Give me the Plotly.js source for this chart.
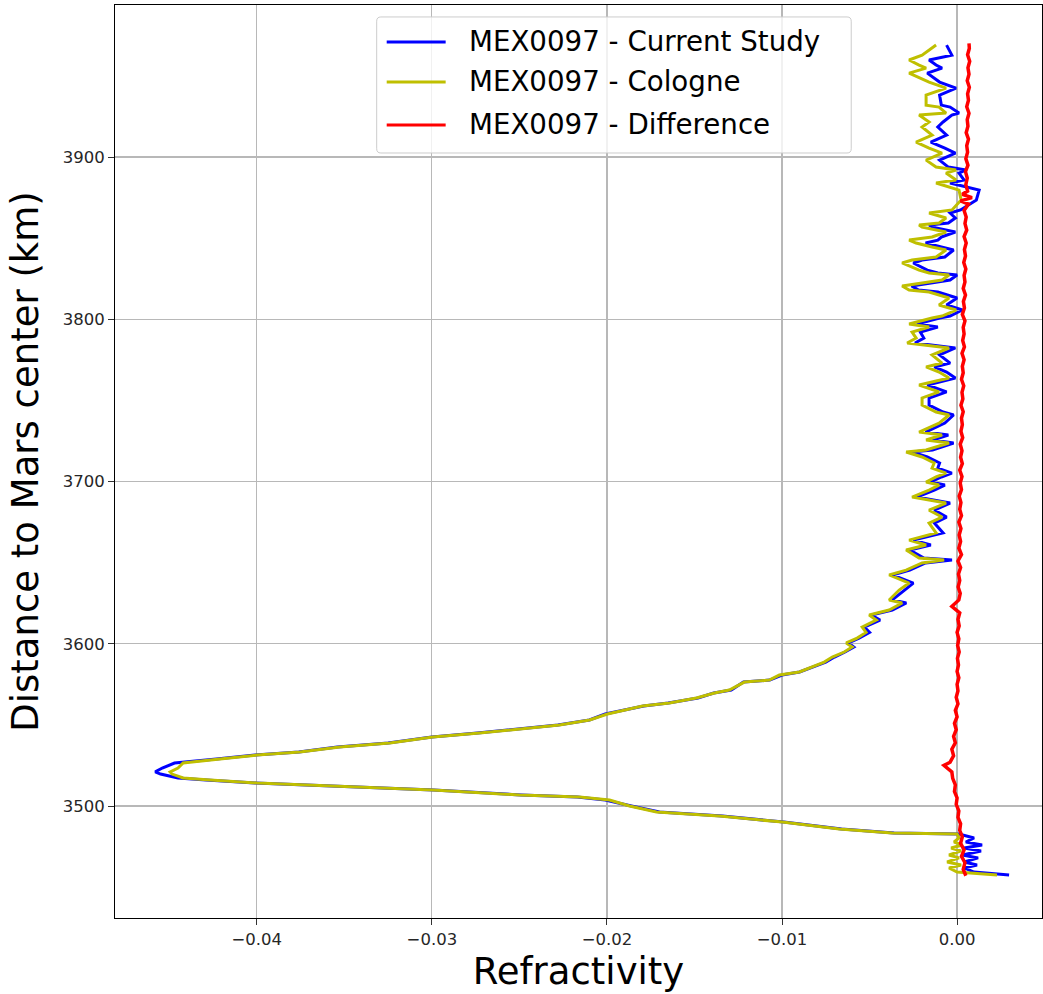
<!DOCTYPE html>
<html>
<head>
<meta charset="utf-8">
<script src="https://cdn.plot.ly/plotly-3.0.1.min.js"></script>
<style>
  html, body { margin: 0; padding: 0; background: #ffffff; }
  #chart { width: 1043px; height: 994px; }
</style>
</head>
<body>
<div id="chart"></div>
<script>
// Radio-occultation refractivity profile MEX0097 (km from Mars centre)
const heights = [
  3457.5, 3459.3, 3461.8, 3463.6, 3465.5, 3468.0, 3469.8, 3472.3, 3474.1, 3476.0,
  3477.8, 3480.3, 3482.7, 3483.4, 3485.8, 3490.1, 3493.8, 3496.3, 3500.0, 3503.7,
  3505.5, 3506.8, 3509.9, 3512.3, 3514.2, 3516.0, 3517.3, 3519.7, 3521.0, 3523.4,
  3526.5, 3529.0, 3531.4, 3533.3, 3536.4, 3538.8, 3542.5, 3545.0, 3547.5, 3549.9,
  3553.0, 3556.7, 3561.6, 3563.5, 3566.6, 3569.6, 3571.5, 3576.4, 3577.6, 3580.7,
  3582.6, 3585.7, 3588.7, 3591.8, 3594.9, 3598.0, 3600.5, 3603.5, 3607.0, 3610.3,
  3614.6, 3617.7, 3620.8, 3625.1, 3627.0, 3633.1, 3637.4, 3642.4, 3645.4, 3649.8,
  3651.6, 3652.8, 3657.8, 3660.9, 3663.9, 3668.3, 3674.4, 3678.1, 3682.4, 3686.7,
  3690.4, 3694.7, 3697.8, 3699.7, 3702.8, 3705.2, 3708.3, 3711.4, 3715.1, 3718.2,
  3719.4, 3723.7, 3725.6, 3728.7, 3730.5, 3736.0, 3741.0, 3742.8, 3747.1, 3751.5,
  3755.2, 3759.5, 3761.3, 3763.8, 3767.5, 3770.6, 3773.0, 3778.0, 3782.3, 3784.1,
  3785.4, 3788.4, 3792.1, 3795.2, 3797.1, 3800.8, 3802.0, 3805.7, 3808.8, 3813.1,
  3816.8, 3818.0, 3820.5, 3824.2, 3827.3, 3828.5, 3830.3, 3834.7, 3836.5, 3838.4,
  3842.7, 3844.5, 3847.0, 3848.8, 3850.7, 3853.8, 3856.8, 3858.1, 3859.3, 3862.4,
  3865.5, 3867.4, 3873.5, 3879.6, 3884.0, 3885.8, 3890.1, 3892.0, 3893.8, 3898.1,
  3902.4, 3905.5, 3909.2, 3913.5, 3918.5, 3921.6, 3925.9, 3927.1, 3930.8, 3932.0,
  3938.2, 3942.5, 3946.2, 3951.7, 3954.8, 3956.7, 3959.8, 3962.8, 3965.9, 3969.0
];

const currentStudy = [
  0.00297, 0.00097, 0.00040, 0.00114, 0.00040, 0.00120, 0.00030, 0.00137, 0.00040, 0.00143,
  0.00050, 0.00097, 0.00011, -0.00360, -0.00660, -0.00990, -0.01340, -0.01700, -0.01860, -0.02010,
  -0.02170, -0.02490, -0.02990, -0.03520, -0.04010, -0.04290, -0.04450, -0.04550, -0.04580, -0.04540,
  -0.04470, -0.04230, -0.04010, -0.03760, -0.03540, -0.03250, -0.03000, -0.02740, -0.02500, -0.02280,
  -0.02100, -0.02010, -0.01790, -0.01650, -0.01480, -0.01390, -0.01290, -0.01220, -0.01070, -0.01000,
  -0.00900, -0.00820, -0.00750, -0.00700, -0.00640, -0.00590, -0.00620, -0.00560, -0.00500, -0.00530,
  -0.00440, -0.00490, -0.00370, -0.00290, -0.00370, -0.00300, -0.00250, -0.00370, -0.00270, -0.00180,
  -0.00029, -0.00190, -0.00270, -0.00150, -0.00250, -0.00080, -0.00130, -0.00060, -0.00130, -0.00040,
  -0.00230, -0.00130, -0.00070, -0.00150, -0.00090, -0.00030, -0.00110, -0.00100, -0.00170, -0.00260,
  -0.00140, -0.00020, -0.00140, -0.00050, -0.00180, -0.00070, -0.00020, -0.00080, -0.00160, -0.00160,
  -0.00060, -0.00170, -0.00100, -0.00010, -0.00060, -0.00130, -0.00040, -0.00100, -0.00010, -0.00130,
  -0.00240, -0.00190, -0.00210, -0.00110, -0.00230, -0.00100, -0.00040, 0.00030, -0.00060, 0.00000,
  -0.00110, -0.00220, -0.00260, -0.00040, 0.00000, -0.00110, -0.00170, -0.00250, -0.00200, -0.00070,
  -0.00020, -0.00090, -0.00180, -0.00110, -0.00090, -0.00010, -0.00140, -0.00160, -0.00050, -0.00010,
  -0.00040, 0.00020, 0.00110, 0.00126, -0.00040, 0.00040, 0.00011, 0.00050, -0.00050, -0.00100,
  -0.00010, -0.00070, -0.00150, -0.00060, -0.00110, -0.00080, -0.00030, 0.00011, -0.00040, -0.00090,
  -0.00100, -0.00006, -0.00100, -0.00170, -0.00086, -0.00120, -0.00160, -0.00030, -0.00046, -0.00060
];

const cologne = [
  0.00228, 0.00000, -0.00046, 0.00023, -0.00057, 0.00011, -0.00046, 0.00023, -0.00034, 0.00029,
  -0.00017, 0.00011, 0.00000, -0.00371, -0.00673, -0.00998, -0.01358, -0.01717, -0.01871, -0.01985,
  -0.02157, -0.02499, -0.02995, -0.03526, -0.03999, -0.04267, -0.04421, -0.04484, -0.04495, -0.04450,
  -0.04421, -0.04210, -0.03999, -0.03754, -0.03526, -0.03240, -0.02995, -0.02727, -0.02499, -0.02271,
  -0.02099, -0.01997, -0.01797, -0.01643, -0.01489, -0.01386, -0.01301, -0.01215, -0.01073, -0.01015,
  -0.00901, -0.00827, -0.00759, -0.00713, -0.00645, -0.00599, -0.00633, -0.00571, -0.00520, -0.00542,
  -0.00462, -0.00502, -0.00388, -0.00314, -0.00388, -0.00331, -0.00274, -0.00388, -0.00291, -0.00200,
  -0.00074, -0.00217, -0.00291, -0.00177, -0.00274, -0.00120, -0.00160, -0.00086, -0.00160, -0.00063,
  -0.00257, -0.00160, -0.00103, -0.00177, -0.00120, -0.00063, -0.00143, -0.00131, -0.00200, -0.00291,
  -0.00177, -0.00046, -0.00177, -0.00086, -0.00217, -0.00103, -0.00046, -0.00120, -0.00200, -0.00200,
  -0.00103, -0.00217, -0.00143, -0.00046, -0.00103, -0.00177, -0.00086, -0.00143, -0.00046, -0.00177,
  -0.00285, -0.00234, -0.00257, -0.00160, -0.00274, -0.00143, -0.00086, -0.00006, -0.00103, -0.00046,
  -0.00160, -0.00274, -0.00314, -0.00086, -0.00046, -0.00160, -0.00217, -0.00314, -0.00257, -0.00120,
  -0.00063, -0.00143, -0.00234, -0.00274, -0.00143, -0.00063, -0.00200, -0.00217, -0.00103, -0.00063,
  -0.00160, -0.00029, 0.00023, 0.00011, -0.00120, -0.00006, -0.00063, -0.00006, -0.00120, -0.00177,
  -0.00086, -0.00160, -0.00234, -0.00143, -0.00200, -0.00160, -0.00217, -0.00063, -0.00103, -0.00177,
  -0.00177, -0.00063, -0.00160, -0.00274, -0.00177, -0.00217, -0.00274, -0.00200, -0.00160, -0.00120
];

// Difference profile, sampled on its own height grid
const diffHeights = [
  3457, 3461, 3465, 3469, 3473, 3477, 3481, 3485, 3489, 3493,
  3497, 3501, 3505, 3509, 3513, 3517, 3521, 3523, 3525, 3527,
  3531, 3535, 3539, 3543, 3547, 3551, 3555, 3559, 3563, 3567,
  3571, 3575, 3579, 3583, 3587, 3591, 3595, 3599, 3603, 3607,
  3611, 3615, 3619, 3623, 3627, 3631, 3635, 3639, 3643, 3647,
  3651, 3655, 3659, 3663, 3667, 3671, 3675, 3679, 3683, 3687,
  3691, 3695, 3699, 3703, 3707, 3711, 3715, 3719, 3723, 3727,
  3731, 3735, 3739, 3743, 3747, 3751, 3755, 3759, 3763, 3767,
  3771, 3775, 3779, 3783, 3787, 3791, 3795, 3799, 3803, 3807,
  3811, 3815, 3819, 3823, 3827, 3831, 3835, 3839, 3843, 3847,
  3851, 3855, 3859, 3863, 3867, 3871, 3873, 3875, 3877, 3879,
  3883, 3887, 3891, 3895, 3899, 3903, 3907, 3911, 3915, 3919,
  3923, 3927, 3931, 3935, 3939, 3943, 3947, 3951, 3955, 3959,
  3963, 3967, 3970
];

const difference = [
  0.00050, 0.00035, 0.00045, 0.00025, 0.00040, 0.00020, 0.00030, 0.00015, 0.00020, 0.00005,
  0.00010, -0.00005, 0.00000, -0.00015, -0.00010, -0.00025, -0.00030, -0.00055, -0.00075, -0.00040,
  -0.00020, -0.00030, -0.00010, -0.00020, -0.00005, -0.00015, 0.00000, -0.00010, 0.00005, -0.00005,
  0.00005, 0.00000, 0.00010, 0.00000, 0.00008, 0.00002, 0.00012, 0.00003, 0.00010, 0.00000,
  0.00012, 0.00005, 0.00015, -0.00030, 0.00010, 0.00018, 0.00006, 0.00015, 0.00008, 0.00020,
  0.00005, 0.00025, 0.00010, 0.00020, 0.00012, 0.00022, 0.00010, 0.00025, 0.00015, 0.00022,
  0.00012, 0.00025, 0.00018, 0.00028, 0.00015, 0.00030, 0.00020, 0.00028, 0.00018, 0.00032,
  0.00022, 0.00030, 0.00025, 0.00035, 0.00022, 0.00033, 0.00028, 0.00038, 0.00025, 0.00035,
  0.00030, 0.00040, 0.00028, 0.00042, 0.00032, 0.00040, 0.00035, 0.00045, 0.00030, 0.00042,
  0.00036, 0.00048, 0.00035, 0.00045, 0.00040, 0.00050, 0.00038, 0.00048, 0.00042, 0.00052,
  0.00040, 0.00055, 0.00045, 0.00052, 0.00040, 0.00065, 0.00020, 0.00085, 0.00030, 0.00060,
  0.00050, 0.00058, 0.00048, 0.00062, 0.00050, 0.00060, 0.00055, 0.00065, 0.00052, 0.00062,
  0.00058, 0.00068, 0.00055, 0.00065, 0.00060, 0.00070, 0.00058, 0.00068, 0.00062, 0.00072,
  0.00060, 0.00070, 0.00068
];

const seriesNames = ['MEX0097 - Current Study', 'MEX0097 - Cologne', 'MEX0097 - Difference'];
const seriesColors = ['#0000ff', '#bfbf00', '#ff0000'];
const xTickVals = [-0.04, -0.03, -0.02, -0.01, 0.00];
const yTickVals = [3500, 3600, 3700, 3800, 3900];

const FONT = 'DejaVu Sans, sans-serif';

const traces = [
  { x: currentStudy, y: heights, name: seriesNames[0], mode: 'lines',
    line: { color: seriesColors[0], width: 3 } },
  { x: cologne, y: heights, name: seriesNames[1], mode: 'lines',
    line: { color: seriesColors[1], width: 3 } },
  { x: difference, y: diffHeights, name: seriesNames[2], mode: 'lines',
    line: { color: seriesColors[2], width: 3.5 } }
];

// Legend box drawn in paper coordinates (upper centre of the axes)
const LEG = { x0: 0.2823, x1: 0.7942, y0: 0.8379, y1: 0.9869, rx: 0.0045, ry: 0.0046 };
const legendRows = [0.9595, 0.9157, 0.8686];
const sampleX = [0.2931, 0.3567];
const labelX = 0.3793;

function roundedBox(b) {
  return 'M' + (b.x0 + b.rx) + ',' + b.y1 +
    ' L' + (b.x1 - b.rx) + ',' + b.y1 +
    ' Q' + b.x1 + ',' + b.y1 + ' ' + b.x1 + ',' + (b.y1 - b.ry) +
    ' L' + b.x1 + ',' + (b.y0 + b.ry) +
    ' Q' + b.x1 + ',' + b.y0 + ' ' + (b.x1 - b.rx) + ',' + b.y0 +
    ' L' + (b.x0 + b.rx) + ',' + b.y0 +
    ' Q' + b.x0 + ',' + b.y0 + ' ' + b.x0 + ',' + (b.y0 + b.ry) +
    ' L' + b.x0 + ',' + (b.y1 - b.ry) +
    ' Q' + b.x0 + ',' + b.y1 + ' ' + (b.x0 + b.rx) + ',' + b.y1 + ' Z';
}

const shapes = [{
  type: 'path', xref: 'paper', yref: 'paper', path: roundedBox(LEG),
  fillcolor: 'rgba(255,255,255,0.8)', line: { color: '#cccccc', width: 1 }, layer: 'above'
}];
const annotations = [];
seriesNames.forEach(function (name, i) {
  shapes.push({
    type: 'line', xref: 'paper', yref: 'paper',
    x0: sampleX[0], x1: sampleX[1], y0: legendRows[i], y1: legendRows[i],
    line: { color: seriesColors[i], width: 3 }, layer: 'above'
  });
  annotations.push({
    xref: 'paper', yref: 'paper', x: labelX, y: legendRows[i],
    xanchor: 'left', yanchor: 'middle', showarrow: false, text: name,
    font: { family: FONT, size: 27.7, color: '#000000' }
  });
});

const axisCommon = {
  showline: true, linecolor: '#000000', linewidth: 1, mirror: true,
  ticks: 'outside', ticklen: 6, tickwidth: 1, tickcolor: '#333333',
  showgrid: true, gridcolor: '#b8b8b8', gridwidth: 1.2,
  zeroline: false,
  tickfont: { family: FONT, size: 16.5, color: '#262626' }
};

const layout = {
  width: 1043, height: 994,
  margin: { l: 115, r: 1, t: 5, b: 76 },
  paper_bgcolor: '#ffffff', plot_bgcolor: '#ffffff',
  font: { family: FONT, color: '#000000' },
  showlegend: false,
  shapes: shapes,
  annotations: annotations,
  xaxis: Object.assign({}, axisCommon, {
    range: [-0.0481, 0.00485],
    tickvals: xTickVals, tickformat: '.2f',
    title: { text: 'Refractivity', font: { family: FONT, size: 37, color: '#000000' }, standoff: 10 }
  }),
  yaxis: Object.assign({}, axisCommon, {
    range: [3430.97, 3993.7],
    tickvals: yTickVals, tickformat: 'd',
    title: { text: 'Distance to Mars center (km)', font: { family: FONT, size: 37, color: '#000000' }, standoff: 12 }
  })
};

Plotly.newPlot('chart', traces, layout, { staticPlot: true, displayModeBar: false });
</script>
</body>
</html>
